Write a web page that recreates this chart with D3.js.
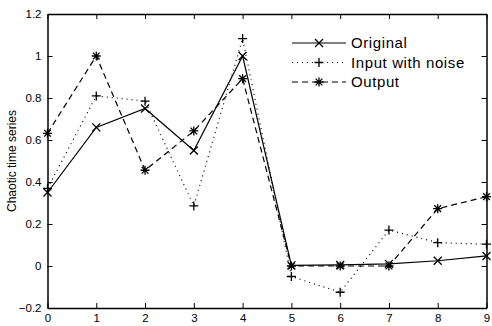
<!DOCTYPE html>
<html>
<head>
<meta charset="utf-8">
<script src="https://cdn.jsdelivr.net/npm/d3@7"></script>
<style>
	body { margin: 0; background: #fff; }
	text { font-family: "Liberation Sans", Arial, sans-serif; fill: #000; }
</style>
</head>
<body>
<svg id="chart" width="492" height="326"></svg>
<script>
// data
const steps = [0, 1, 2, 3, 4, 5, 6, 7, 8, 9];
const original = [0.35, 0.66, 0.75, 0.55, 1.0, 0.003, 0.005, 0.01, 0.025, 0.048];
const noisy = [0.37, 0.81, 0.785, 0.286, 1.083, -0.05, -0.125, 0.171, 0.111, 0.104];
const output = [0.632, 1.0, 0.456, 0.643, 0.892, 0.0, 0.0, 0.0, 0.273, 0.33];
const xTicks = [0, 1, 2, 3, 4, 5, 6, 7, 8, 9];
const yTicks = [-0.2, 0, 0.2, 0.4, 0.6, 0.8, 1, 1.2];

const series = [
	{ name: 'Original', values: original, dash: null, marker: 'x' },
	{ name: 'Input with noise', values: noisy, dash: '1,4', marker: '+' },
	{ name: 'Output', values: output, dash: '6,4', marker: '*' }
];

let margin = { top: 14, left: 47.5, bottom: 18, right: 5.5 },
	width = 492 - margin.left - margin.right,
	height = 326 - margin.top - margin.bottom;

let svg = d3.select('#chart');
let g = svg.append('g')
	.attr('transform', 'translate(' + margin.left + ',' + margin.top + ')');

let x = d3.scaleLinear().domain([0, 9]).range([0, width]);
let y = d3.scaleLinear().domain([-0.2, 1.2]).range([height, 0]);

/**
* draw a MATLAB style marker at (px, py)
*/
function drawMarker(sel, type, px, py) {
	let r = 4.5, p;
	if (type === 'x') {
		r = 4;
		p = 'M' + (px - r) + ',' + (py - r) + 'L' + (px + r) + ',' + (py + r) +
			'M' + (px - r) + ',' + (py + r) + 'L' + (px + r) + ',' + (py - r);
	} else if (type === '+') {
		p = 'M' + (px - r) + ',' + py + 'L' + (px + r) + ',' + py +
			'M' + px + ',' + (py - r) + 'L' + px + ',' + (py + r);
	} else {
		let d = r * 0.75;
		p = 'M' + (px - r) + ',' + py + 'L' + (px + r) + ',' + py +
			'M' + px + ',' + (py - r) + 'L' + px + ',' + (py + r) +
			'M' + (px - d) + ',' + (py - d) + 'L' + (px + d) + ',' + (py + d) +
			'M' + (px - d) + ',' + (py + d) + 'L' + (px + d) + ',' + (py - d);
	}
	sel.append('path')
		.attr('d', p)
		.attr('stroke', '#000')
		.attr('stroke-width', 1.3)
		.attr('fill', 'none');
}

// lines + markers
let line = d3.line()
	.x((d, i) => x(steps[i]))
	.y(d => y(d));

series.forEach((s) => {
	g.append('path')
		.datum(s.values)
		.attr('d', line)
		.attr('fill', 'none')
		.attr('stroke', '#000')
		.attr('stroke-width', 1.2)
		.attr('stroke-dasharray', s.dash);
	let mg = g.append('g');
	s.values.forEach((v, i) => drawMarker(mg, s.marker, x(steps[i]), y(v)));
});

// axes, ticks inward on all four sides
let axisBottom = d3.axisBottom(x).tickValues(xTicks).tickSizeInner(-5).tickSizeOuter(0).tickPadding(6);
let axisTop = d3.axisTop(x).tickValues(xTicks).tickSizeInner(-5).tickSizeOuter(0).tickFormat('');
let axisLeft = d3.axisLeft(y).tickValues(yTicks).tickSizeInner(-5).tickSizeOuter(0).tickPadding(6)
	.tickFormat(d => d3.format('~g')(+d.toFixed(1)));
let axisRight = d3.axisRight(y).tickValues(yTicks).tickSizeInner(-5).tickSizeOuter(0).tickFormat('');

g.append('g').attr('transform', 'translate(0,' + height + ')').call(axisBottom);
g.append('g').call(axisTop);
g.append('g').call(axisLeft);
g.append('g').attr('transform', 'translate(' + width + ',0)').call(axisRight);

g.selectAll('.domain').attr('stroke', '#000').attr('stroke-width', 1.5);
g.selectAll('.tick line').attr('stroke', '#000').attr('stroke-width', 1);
g.selectAll('.tick text')
	.style('font-family', '"Liberation Sans", Arial, sans-serif')
	.style('font-size', '11.5px')
	.attr('fill', '#000');

// y label
svg.append('text')
	.attr('transform', 'translate(16,' + (margin.top + height / 2) + ') rotate(-90)')
	.style('text-anchor', 'middle')
	.style('font-size', '12px')
	.text('Chaotic time series');

// legend
let legend = svg.append('g');
series.forEach((s, i) => {
	let ly = 43 + i * 19.5,
		x0 = 292, x1 = 346;
	legend.append('line')
		.attr('x1', x0).attr('x2', x1)
		.attr('y1', ly).attr('y2', ly)
		.attr('stroke', '#000')
		.attr('stroke-width', 1.2)
		.attr('stroke-dasharray', s.dash);
	drawMarker(legend, s.marker, (x0 + x1) / 2, ly);
	legend.append('text')
		.attr('x', 351)
		.attr('y', ly + 5)
		.style('font-size', '15px')
		.style('letter-spacing', '0.6px')
		.text(s.name);
});
</script>
</body>
</html>
